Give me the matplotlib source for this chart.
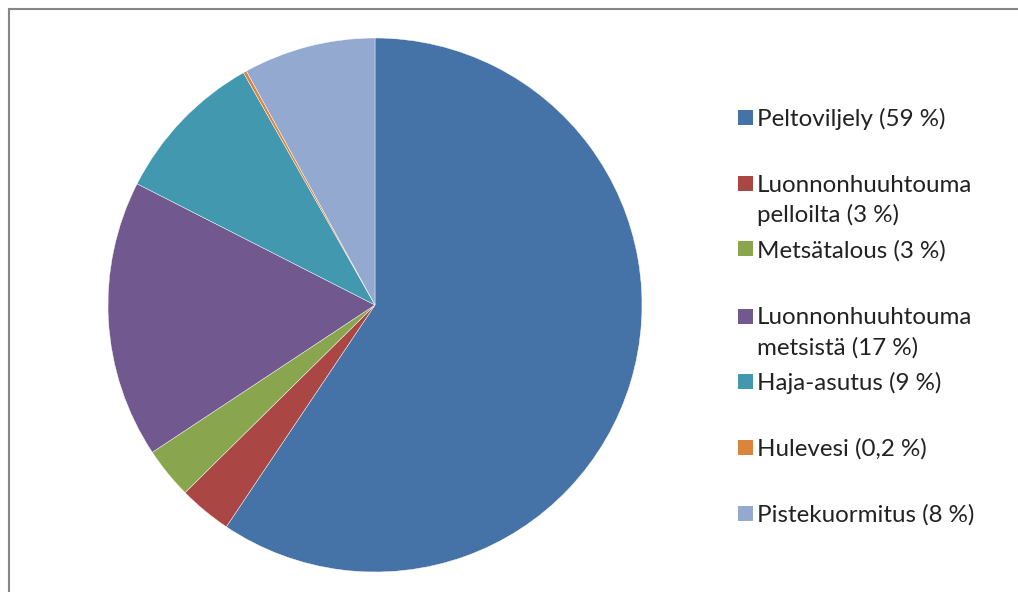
import matplotlib
matplotlib.use('Agg')
import matplotlib.pyplot as plt
import matplotlib.patches as mplpatches
from matplotlib.lines import Line2D

# data
labels = ['Peltoviljely (59 %)',
          'Luonnonhuuhtouma\npelloilta (3 %)',
          'Metsätalous (3 %)',
          'Luonnonhuuhtouma\nmetsistä (17 %)',
          'Haja-asutus (9 %)',
          'Hulevesi (0,2 %)',
          'Pistekuormitus (8 %)']
values = [59.4, 3.2, 3.1, 16.8, 9.3, 0.2, 8.0]
colors = ['#4572A7', '#AA4643', '#89A54E', '#71588F', '#4198AF', '#DB843D', '#93A9CF']

fig_w, fig_h = 1018, 592
fig = plt.figure(figsize=(fig_w / 100, fig_h / 100), dpi=100)

# pie panel, centre ~(375,305) px, radius ~267 px
r = 267
cx, cy = 375, 305
ax = fig.add_axes([(cx - r) / fig_w, (fig_h - cy - r) / fig_h, 2 * r / fig_w, 2 * r / fig_h])
ax.pie(values, colors=colors, startangle=90, counterclock=False, radius=1,
       wedgeprops=dict(edgecolor='white', linewidth=0.3))
ax.set_xlim(-1, 1)
ax.set_ylim(-1, 1)
ax.set_aspect('equal')
ax.axis('off')

# legend drawn by hand (uneven spacing like the original)
marker_y = [117, 183, 249, 316, 381, 447, 513]
line_gap = 30
for lab, col, y in zip(labels, colors, marker_y):
    sq = 15
    fig.patches.append(mplpatches.Rectangle(((745 - sq / 2) / fig_w, (fig_h - y - sq / 2) / fig_h),
                                            sq / fig_w, sq / fig_h, transform=fig.transFigure,
                                            facecolor=col, edgecolor='none'))
    for i, part in enumerate(lab.split('\n')):
        fig.text(757 / fig_w, (fig_h - y - i * line_gap) / fig_h, part, ha='left', va='center_baseline',
                 fontsize=17.4, family='Lato', color='#222222', transform=fig.transFigure)

# chart frame (top and left edges visible)
fig.lines.append(Line2D([9 / fig_w, 1], [1 - 8.5 / fig_h, 1 - 8.5 / fig_h],
                        transform=fig.transFigure, color='#868686', linewidth=1.5))
fig.lines.append(Line2D([9 / fig_w, 9 / fig_w], [0, 1 - 8.5 / fig_h],
                        transform=fig.transFigure, color='#868686', linewidth=1.5))

plt.savefig('out.png', dpi=100)
